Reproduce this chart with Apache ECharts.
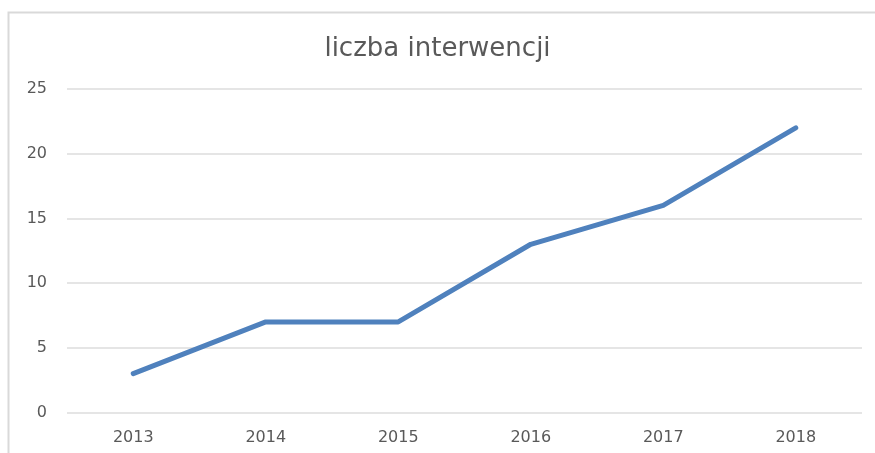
<!DOCTYPE html>
<html>
<head>
<meta charset="utf-8">
<script src="https://cdn.jsdelivr.net/npm/echarts@6/dist/echarts.min.js"></script>
<style>
  html, body { margin: 0; padding: 0; background: #fff; }
  #chart { width: 875px; height: 453px; }
</style>
</head>
<body>
<div id="chart"></div>
<script>
const years = ['2013', '2014', '2015', '2016', '2017', '2018']
const interwencje = [3, 7, 7, 13, 16, 22]

const chart = echarts.init(document.getElementById('chart'))

const option = {
    animation: false,
    title: {
        text: 'liczba interwencji',
        left: 'center',
        top: 31,
        textStyle: {
            color: '#595959',
            fontSize: 26,
            fontWeight: 'normal',
            fontFamily: 'DejaVu Sans'
        }
    },
    graphic: [{
        type: 'rect',
        shape: { x: 8.5, y: 12.5, width: 900, height: 500 },
        style: { fill: 'none', stroke: '#d9d9d9', lineWidth: 2 },
        silent: true
    }],
    grid: {
        left: 67,
        right: 13,
        top: 89,
        bottom: 40.5
    },
    xAxis: {
        type: 'category',
        data: years,
        boundaryGap: true,
        axisLine: { show: false },
        axisTick: { show: false },
        axisLabel: {
            color: '#595959',
            fontSize: 16,
            fontFamily: 'DejaVu Sans',
            margin: 17
        }
    },
    yAxis: {
        type: 'value',
        min: 0,
        max: 25,
        interval: 5,
        axisLine: { show: false },
        axisTick: { show: false },
        axisLabel: {
            color: '#595959',
            fontSize: 16,
            fontFamily: 'DejaVu Sans',
            margin: 20
        },
        splitLine: {
            lineStyle: { color: '#dcdcdc', width: 1.5 }
        }
    },
    series: [{
        name: 'liczba interwencji',
        type: 'line',
        data: interwencje,
        showSymbol: false,
        lineStyle: { color: '#4f81bd', width: 5, cap: 'round', join: 'round' }
    }]
}
chart.setOption(option)
</script>
</body>
</html>
